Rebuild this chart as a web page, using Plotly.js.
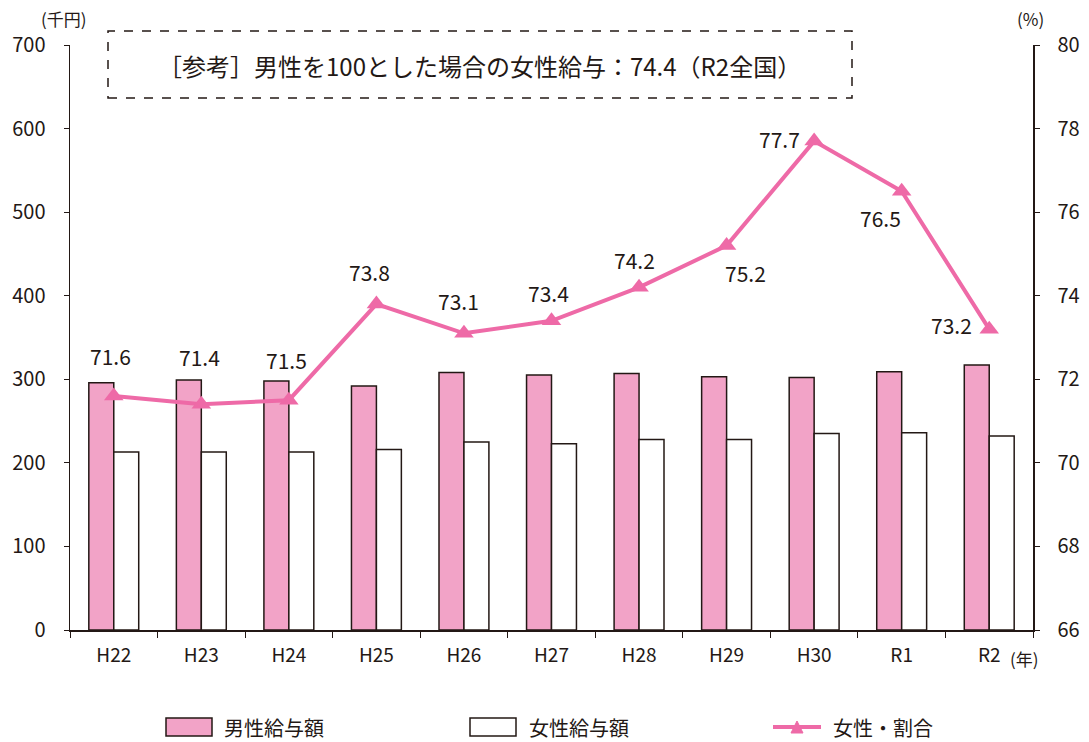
<!DOCTYPE html>
<html>
<head>
<meta charset="utf-8">
<script src="https://cdn.plot.ly/plotly-3.0.1.min.js"></script>
<style>html,body{margin:0;padding:0;background:#fff;}#chart{width:1089px;height:742px;}</style>
</head>
<body>
<div id="chart"></div>
<script>
const categories = ['H22','H23','H24','H25','H26','H27','H28','H29','H30','R1','R2'];
const maleSalary = [296, 299, 298, 292, 308, 305, 307, 303, 302, 309, 317];
const femaleSalary = [213, 213, 213, 216, 225, 223, 228, 228, 235, 236, 232];
const femaleRatio = [71.6, 71.4, 71.5, 73.8, 73.1, 73.4, 74.2, 75.2, 77.7, 76.5, 73.2];
const ratioLabels = ['71.6','71.4','71.5','73.8','73.1','73.4','74.2','75.2','77.7','76.5','73.2'];
const seriesNames = ['男性給与額','女性給与額','女性・割合'];
const labelOffsets = [[-3,-40],[-2,-47],[-2,-40],[-7,-32],[-5,-32],[-3,-28],[-5,-27],[19,27],[-35,-2],[-21,27],[-38,-4]];

const FONT = '"Noto Sans CJK JP", "Noto Sans", sans-serif';
const TXT = '#231815';
const PINK_LINE = '#ee6aa7';
const PINK_BAR = '#f2a3c7';

const traces = [
  {type:'bar', name:seriesNames[0], x:categories, y:maleSalary,
   marker:{color:PINK_BAR, line:{color:TXT, width:1.5}}},
  {type:'bar', name:seriesNames[1], x:categories, y:femaleSalary,
   marker:{color:'#ffffff', line:{color:TXT, width:1.5}}},
  {type:'scatter', mode:'lines+markers', name:seriesNames[2], x:categories, y:femaleRatio, yaxis:'y2',
   line:{color:PINK_LINE, width:4}, marker:{symbol:'triangle-up', size:17, color:PINK_LINE}}
];

const annotations = femaleRatio.map((v,i)=>({
  x:categories[i], y:v, xref:'x', yref:'y2', text:ratioLabels[i], showarrow:true,
  arrowcolor:'rgba(0,0,0,0)', ax:labelOffsets[i][0], ay:labelOffsets[i][1],
  font:{family:FONT, size:21, color:TXT}
}));

const px = v => (v - 70) / 963;
const py = v => (630 - v) / 585;

annotations.push(
  {xref:'paper', yref:'paper', x:0.425, y:0.965, text:'［参考］男性を100とした場合の女性給与：74.4（R2全国）',
   showarrow:false, font:{family:FONT, size:24, color:TXT}, xanchor:'center', yanchor:'middle'},
  {xref:'paper', yref:'paper', x:px(64), y:py(19), text:'(千円)', showarrow:false,
   font:{family:FONT, size:17, color:TXT}, xanchor:'center', yanchor:'middle'},
  {xref:'paper', yref:'paper', x:px(1030), y:py(19), text:'(%)', showarrow:false,
   font:{family:FONT, size:17, color:TXT}, xanchor:'center', yanchor:'middle'},
  {xref:'paper', yref:'paper', x:px(1008), y:py(658), text:'(年)', showarrow:false,
   font:{family:FONT, size:17, color:TXT}, xanchor:'left', yanchor:'middle'}
);

// custom legend (paper coordinates)
const legendShapes = [
  {type:'rect', xref:'paper', yref:'paper', x0:px(166), x1:px(212), y0:py(736), y1:py(718),
   fillcolor:PINK_BAR, line:{color:TXT, width:1.5}},
  {type:'rect', xref:'paper', yref:'paper', x0:px(470), x1:px(516), y0:py(736), y1:py(718),
   fillcolor:'#ffffff', line:{color:TXT, width:1.5}},
  {type:'line', xref:'paper', yref:'paper', x0:px(773), x1:px(821), y0:py(727), y1:py(727),
   line:{color:PINK_LINE, width:4}},
  {type:'path', xref:'paper', yref:'paper',
   path:`M ${px(791)} ${py(733)} L ${px(803)} ${py(733)} L ${px(797)} ${py(721)} Z`,
   fillcolor:PINK_LINE, line:{color:PINK_LINE, width:1}}
];
[[222,0],[527,1],[831,2]].forEach(([x,i])=>{
  annotations.push({xref:'paper', yref:'paper', x:px(x), y:py(727), text:seriesNames[i], showarrow:false,
    xanchor:'left', yanchor:'middle', font:{family:FONT, size:20, color:TXT}});
});

const layout = {
  width:1089, height:742,
  margin:{l:70, r:56, t:45, b:112},
  paper_bgcolor:'#fff', plot_bgcolor:'#fff',
  font:{family:FONT, color:TXT, size:20},
  barmode:'group', bargap:0.43, bargroupgap:0,
  showlegend:false,
  xaxis:{type:'category', range:[-0.5, categories.length-0.5], showline:true, linecolor:TXT, linewidth:1.5, ticks:'outside',
         tickson:'boundaries', ticklen:6, tickcolor:TXT, showgrid:false, zeroline:false,
         tickfont:{family:FONT, size:19, color:TXT}, ticklabelstandoff:8, automargin:false},
  yaxis:{range:[0,700], dtick:100, showline:true, linecolor:TXT, linewidth:1.5,
         ticks:'outside', ticklen:5, tickcolor:TXT, showgrid:false, zeroline:false,
         tickfont:{family:FONT, size:20, color:TXT}, ticklabelstandoff:14, automargin:false},
  yaxis2:{range:[66,80], dtick:2, overlaying:'y', side:'right', showline:true, linecolor:TXT, linewidth:1.5,
          ticks:'outside', ticklen:5, tickcolor:TXT, showgrid:false, zeroline:false,
          tickfont:{family:FONT, size:20, color:TXT}, ticklabelstandoff:14, automargin:false},
  shapes:[{type:'rect', xref:'paper', yref:'paper', x0:px(108), x1:px(852), y0:py(98), y1:py(31),
           line:{color:TXT, width:1.5, dash:'dash'}, fillcolor:'rgba(0,0,0,0)'}].concat(legendShapes),
  annotations:annotations
};

Plotly.newPlot('chart', traces, layout, {displayModeBar:false, staticPlot:true});
</script>
</body>
</html>
